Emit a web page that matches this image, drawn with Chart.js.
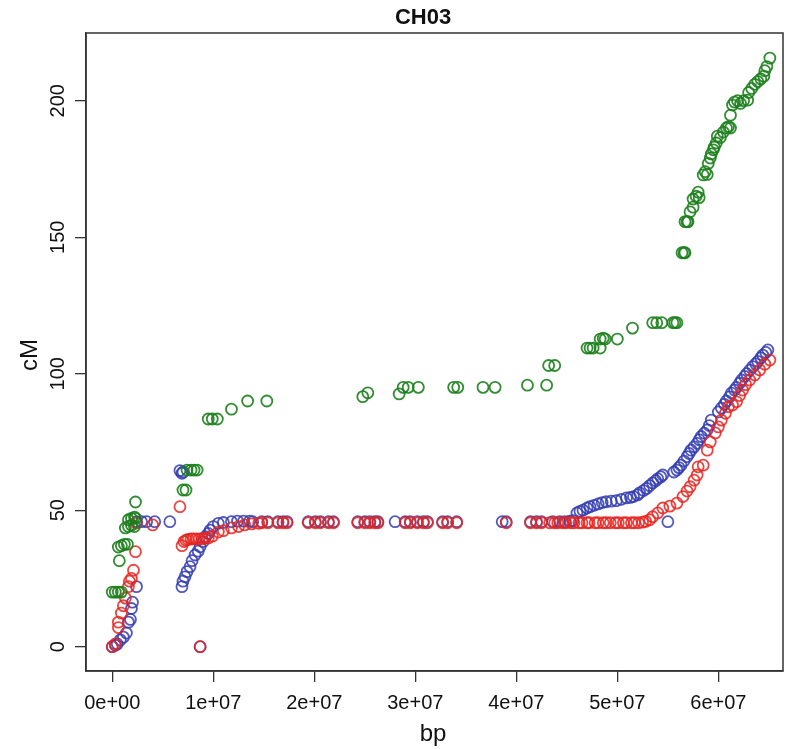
<!DOCTYPE html>
<html>
<head>
<meta charset="utf-8">
<script src="https://cdn.jsdelivr.net/npm/chart.js@4.4.1/dist/chart.umd.min.js"></script>
<style>
  html, body { margin: 0; padding: 0; background: #fff; }
  #wrap { width: 795px; height: 749px; }
</style>
</head>
<body>
<div id="wrap"><canvas id="myChart" width="795" height="749"></canvas></div>
<script>
// tick values and labels
const xTickValues = [0, 1e7, 2e7, 3e7, 4e7, 5e7, 6e7];
const xTickLabels = ['0e+00', '1e+07', '2e+07', '3e+07', '4e+07', '5e+07', '6e+07'];
const yTickValues = [0, 50, 100, 150, 200];
const yTickLabels = ['0', '50', '100', '150', '200'];

// green series (bp, cM)
const greenBp = [0, 0.3e6, 0.6e6, 0.9e6, 0.7e6, 0.6e6, 0.9e6, 1.2e6, 1.5e6, 1.3e6, 1.6e6, 1.9e6, 2.2e6,
  1.6e6, 1.9e6, 2.2e6, 2.3e6, 2.3e6, 7.0e6, 7.3e6, 7.4e6, 7.8e6, 8.1e6, 8.4e6,
  9.5e6, 9.9e6, 10.4e6, 11.8e6, 13.4e6, 15.3e6,
  24.8e6, 25.3e6, 28.4e6, 28.8e6, 29.3e6, 30.3e6, 33.8e6, 34.2e6, 36.7e6, 37.9e6,
  41.1e6, 43.0e6, 43.2e6, 43.8e6,
  47.0e6, 47.3e6, 47.6e6, 48.3e6, 48.3e6, 48.6e6, 48.8e6, 50.0e6, 51.5e6, 53.5e6, 53.9e6, 54.4e6, 55.5e6, 55.7e6, 55.9e6,
  56.4e6, 56.6e6, 56.7e6, 56.7e6, 56.9e6, 57.0e6,
  57.2e6, 57.5e6, 57.5e6, 57.8e6, 58.0e6, 58.1e6,
  58.5e6, 58.7e6, 58.9e6,
  59.0e6, 59.2e6, 59.3e6, 59.5e6, 59.6e6, 59.8e6,
  59.9e6, 60.2e6, 60.5e6, 60.8e6, 61.0e6, 61.2e6, 61.2e6,
  61.4e6, 61.6e6, 61.9e6, 62.2e6, 62.5e6, 62.9e6,
  63.0e6, 63.3e6, 63.6e6, 63.9e6, 64.2e6, 64.5e6,
  64.6e6, 64.8e6, 65.1e6];
const greenCM = [20, 20, 20, 20, 31.5, 36.5, 37, 37.5, 37.5, 43.5, 44, 44.5, 44,
  46.5, 47, 47.5, 47, 53, 57.4, 57.4, 64.7, 64.7, 64.7, 64.7,
  83.4, 83.4, 83.4, 87, 90, 90,
  91.6, 93, 92.6, 95, 95, 95, 95, 95, 95, 95,
  95.8, 95.8, 103, 103,
  109.4, 109.4, 109.4, 109.4, 112.7, 113, 112.7, 112.7, 116.7, 118.7, 118.7, 118.7, 118.7, 118.7, 118.7,
  144.3, 144.3, 144.3, 155.7, 155.7, 155.7,
  159.3, 161, 164, 165, 166.5, 164.5,
  172.8, 174, 173,
  177, 179, 180.5, 182, 183, 184.5,
  187, 186.5, 188.5, 190, 190.5, 190, 194.7,
  198.4, 199.5, 200, 199, 200, 200.2,
  203, 204.5, 206, 207, 208, 209,
  211, 212.5, 215.6];

// blue series (bp, cM)
const blueBp = [0, 0.3e6, 0.5e6, 0.8e6, 1.1e6, 1.4e6, 1.6e6, 1.8e6, 1.9e6, 2.0e6, 2.4e6,
  2.4e6, 2.9e6, 3.4e6, 4.2e6, 5.7e6, 6.7e6, 6.9e6, 7.0e6, 8.7e6,
  6.9e6, 7.0e6, 7.2e6, 7.4e6, 7.7e6, 7.9e6, 8.2e6, 8.5e6, 8.7e6, 9.0e6, 9.2e6, 9.5e6, 9.7e6, 10.0e6, 10.5e6, 11.0e6, 11.8e6, 12.4e6, 13.0e6, 13.6e6,
  13.9e6, 14.8e6, 15.4e6, 16.4e6, 16.9e6, 17.3e6, 19.4e6, 20.1e6, 20.6e6, 21.4e6, 21.9e6,
  24.3e6, 25.0e6, 25.5e6, 26.0e6, 26.3e6, 28.0e6, 29.0e6, 29.5e6, 30.2e6, 30.8e6, 31.2e6,
  32.7e6, 33.2e6, 34.1e6, 38.6e6, 39.0e6, 41.4e6, 42.0e6, 42.5e6, 43.6e6, 44.3e6, 44.8e6,
  45.3e6, 45.6e6, 46.0e6, 46.3e6, 46.6e6, 47.0e6, 47.3e6, 47.7e6, 48.1e6, 48.5e6, 48.9e6, 49.4e6, 49.9e6,
  50.4e6, 50.9e6, 51.3e6, 51.6e6, 52.0e6, 52.2e6, 52.6e6, 52.9e6, 53.2e6, 53.5e6, 53.8e6, 54.0e6, 54.3e6, 54.5e6,
  55.0e6, 55.6e6, 55.9e6, 56.1e6, 56.3e6, 56.6e6, 56.9e6, 57.1e6, 57.3e6, 57.6e6, 57.9e6, 58.1e6, 58.3e6, 58.6e6,
  58.9e6, 59.1e6, 59.3e6, 60.0e6, 60.3e6, 60.6e6, 60.8e6, 61.1e6, 61.3e6, 61.6e6, 61.8e6, 62.1e6, 62.3e6,
  62.6e6, 62.8e6, 63.1e6, 63.4e6, 63.7e6, 63.9e6, 64.2e6, 64.4e6, 64.7e6, 64.9e6];
const blueCM = [0, 0.5, 1, 2.5, 3.5, 5, 9, 10, 14, 16.3, 22,
  45.8, 45.8, 45.8, 45.8, 45.8, 64.5, 63.5, 64, 0,
  22, 24, 25.6, 27.5, 29.3, 31.5, 33.6, 35, 36.6, 38.5, 40.3, 41.5, 42.7, 44, 45.2, 45.5, 45.8, 46, 46, 46,
  45.8, 45.8, 45.8, 45.8, 45.8, 45.8, 45.8, 45.8, 45.8, 45.8, 45.8,
  45.8, 45.8, 45.8, 45.8, 45.8, 45.8, 45.8, 45.8, 45.8, 45.8, 45.8,
  45.8, 45.8, 45.8, 45.8, 45.8, 45.8, 45.8, 45.8, 45.8, 45.8, 45.8,
  46, 46.2, 49, 49.6, 50, 50.8, 51.3, 51.8, 52.3, 52.8, 53.1, 53.3, 53.5,
  54, 54.5, 54.7, 55, 55.6, 56.3, 57.2, 58, 59, 60, 60.8, 61.5, 62.2, 62.9,
  45.8, 64, 64.7, 65.6, 66.5, 68, 69.6, 70.8, 72, 73.2, 74.5, 75.8, 77, 78.2,
  79.4, 81, 83, 86, 87.4, 88.8, 90, 91.5, 92.9, 94, 95, 96.5, 97.7,
  99, 100, 101.3, 102.6, 103.6, 104.5, 105.8, 106.8, 107.8, 108.7];

// red series (bp, cM)
const redBp = [0, 0.3e6, 0.6e6, 0.6e6, 0.9e6, 1.1e6, 1.3e6, 1.6e6, 1.7e6, 1.9e6, 2.1e6, 2.3e6, 2.4e6, 4.0e6, 6.7e6, 8.7e6,
  6.9e6, 7.1e6, 7.3e6, 7.5e6, 7.8e6, 8.0e6, 8.3e6, 8.6e6, 8.9e6, 9.2e6, 9.5e6,
  9.9e6, 10.5e6, 11.0e6, 11.8e6, 12.5e6, 13.1e6, 13.8e6, 14.5e6,
  14.8e6, 15.4e6, 16.4e6, 16.9e6, 17.3e6, 19.4e6, 20.1e6, 20.6e6, 21.4e6, 21.9e6,
  24.3e6, 25.0e6, 25.5e6, 26.0e6, 26.3e6, 29.0e6, 29.5e6, 30.2e6, 30.8e6, 31.2e6,
  32.7e6, 33.2e6, 34.1e6, 39.0e6, 41.4e6, 42.0e6, 42.5e6,
  43.3e6, 43.8e6, 44.1e6, 44.6e6, 44.9e6, 45.4e6, 45.7e6, 46.2e6, 46.5e6, 47.0e6, 47.2e6, 47.8e6, 48.1e6, 48.6e6,
  48.9e6, 49.3e6, 49.8e6, 50.1e6, 50.6e6, 50.9e6, 51.4e6, 51.7e6, 52.1e6, 52.5e6, 52.8e6,
  53.2e6, 53.5e6, 54.0e6, 54.5e6, 55.2e6, 55.9e6, 56.5e6, 56.9e6, 57.2e6, 57.6e6, 57.9e6, 58.0e6, 58.5e6,
  58.9e6, 59.2e6, 59.7e6, 60.0e6, 60.3e6, 60.7e6, 61.0e6, 61.4e6, 61.8e6, 62.1e6, 62.4e6, 62.7e6,
  63.1e6, 63.6e6, 64.1e6, 64.6e6, 65.1e6];
const redCM = [0, 1, 7, 9, 12.3, 15, 17.8, 22, 24, 25, 28, 34.8, 45.3, 44.6, 51.3, 0,
  37, 38.5, 39, 39.3, 39.5, 39.5, 39.5, 39.5, 39.5, 39.8, 39.8,
  40.5, 42, 42.5, 43.5, 44, 44.6, 45, 45.2,
  45.4, 45.4, 45.4, 45.4, 45.4, 45.4, 45.4, 45.4, 45.4, 45.4,
  45.4, 45.4, 45.4, 45.4, 45.4, 45.4, 45.4, 45.4, 45.4, 45.4,
  45.4, 45.4, 45.4, 45.4, 45.4, 45.4, 45.4,
  45.4, 45.4, 45.4, 45.4, 45.4, 45.4, 45.4, 45.4, 45.4, 45.4, 45.4, 45.4, 45.4, 45.4,
  45.4, 45.4, 45.4, 45.4, 45.4, 45.4, 45.4, 45.4, 45.4, 45.6, 45.9,
  46.5, 47.6, 49, 50.8, 51.5, 52.6, 55, 57, 58.6, 61, 62.9, 65.9, 66.5,
  72, 75, 78.3, 80.5, 83, 85.5, 87.9, 88.5, 89.7, 92, 94, 96,
  97.7, 99.5, 101.4, 103.5, 105];

function toPoints(xs, ys) {
  return xs.map((x, i) => ({ x: x, y: ys[i] }));
}

const fontFamily = "'Liberation Sans', Arial, Helvetica, sans-serif";

// R-like box around the plot region plus the text around it
const frame = {
  id: 'frame',
  afterDraw(chart) {
    const c = chart.ctx, a = chart.chartArea;
    c.save();
    c.strokeStyle = '#333';
    c.lineWidth = 1.5;
    c.strokeRect(a.left, a.top, a.right - a.left, a.bottom - a.top);

    c.fillStyle = '#111';
    c.textAlign = 'center';
    c.textBaseline = 'middle';
    c.font = 'bold 22px ' + fontFamily;
    c.fillText('CH03', 423, 18);

    c.font = '24px ' + fontFamily;
    c.fillText('bp', 433, 734);

    const ys = chart.scales.y;
    c.font = '20px ' + fontFamily;
    yTickValues.forEach((v, i) => {
      c.save();
      c.translate(58, ys.getPixelForValue(v));
      c.rotate(-Math.PI / 2);
      c.fillText(yTickLabels[i], 0, 0);
      c.restore();
    });

    c.font = '24px ' + fontFamily;
    c.translate(30, 355);
    c.rotate(-Math.PI / 2);
    c.fillText('cM', 0, 0);
    c.restore();
  }
};

function series(label, xs, ys, color, order) {
  return {
    label: label,
    data: toPoints(xs, ys),
    borderColor: color,
    backgroundColor: 'rgba(0,0,0,0)',
    pointBackgroundColor: 'rgba(0,0,0,0)',
    pointBorderColor: color,
    pointBorderWidth: 1.8,
    pointRadius: 5.5,
    showLine: false,
    order: order
  };
}

const ctx = document.getElementById('myChart');

new Chart(ctx, {
  type: 'scatter',
  data: {
    datasets: [
      series('green', greenBp, greenCM, 'rgba(28,128,28,0.9)', 0),
      series('red', redBp, redCM, 'rgba(232,36,32,0.85)', 1),
      series('blue', blueBp, blueCM, 'rgba(50,60,176,0.85)', 2)
    ]
  },
  options: {
    responsive: false,
    animation: false,
    layout: { padding: { top: 33, right: 12, left: 0, bottom: 0 } },
    plugins: {
      legend: { display: false },
      tooltip: { enabled: false },
      title: { display: false }
    },
    scales: {
      x: {
        type: 'linear',
        min: -2.6e6,
        max: 66.4e6,
        afterBuildTicks: s => { s.ticks = xTickValues.map(v => ({ value: v })); },
        afterFit: s => { s.height = 78; },
        ticks: {
          callback: v => xTickLabels[xTickValues.indexOf(v)],
          font: { family: fontFamily, size: 20 },
          color: '#111',
          padding: 9,
          maxRotation: 0,
          autoSkip: false
        },
        grid: { drawOnChartArea: false, drawTicks: true, tickLength: 11, color: '#333', lineWidth: 1.3 },
        border: { display: true, color: '#333', width: 1.5 }
      },
      y: {
        type: 'linear',
        min: -8.9,
        max: 224.8,
        afterBuildTicks: s => { s.ticks = yTickValues.map(v => ({ value: v })); },
        afterFit: s => { s.width = 86; },
        ticks: { display: false },
        grid: { drawOnChartArea: false, drawTicks: true, tickLength: 11, color: '#333', lineWidth: 1.3 },
        border: { display: true, color: '#333', width: 1.5 }
      }
    }
  },
  plugins: [frame]
});
</script>
</body>
</html>
